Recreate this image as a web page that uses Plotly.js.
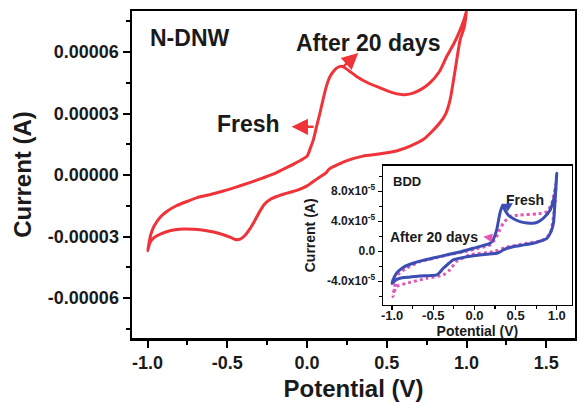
<!DOCTYPE html>
<html>
<head>
<meta charset="utf-8">
<script src="https://cdn.plot.ly/plotly-3.0.1.min.js"></script>
<style>html,body{margin:0;padding:0;background:#fff;}#chart{width:577px;height:402px;}</style>
</head>
<body>
<div id="chart"></div>
<script>
// Main N-DNW cyclic voltammogram (potential V, current A)
const ndnwPotential = [
  -1.00,-0.98,-0.96,-0.92,-0.88,-0.82,-0.75,-0.69,-0.60,-0.525,-0.45,-0.36,-0.28,-0.21,-0.15,-0.087,-0.04,0.00,0.02,0.04,0.06,0.08,0.10,0.12,0.144,0.17,0.186,0.217,0.26,0.31,0.38,0.457,0.53,0.60,0.66,0.72,0.77,0.83,0.876,0.92,0.96,0.985,1.00,
  0.985,0.96,0.93,0.897,0.87,0.834,0.78,0.73,0.65,0.56,0.45,0.35,0.25,0.14,0.12,0.06,0.00,-0.065,-0.15,-0.23,-0.27,-0.295,-0.33,-0.36,-0.39,-0.42,-0.45,-0.48,-0.55,-0.63,-0.71,-0.80,-0.86,-0.92,-0.96,-0.985,-1.00
];
const ndnwCurrent = [
  -3.70e-5,-2.90e-5,-2.50e-5,-2.05e-5,-1.78e-5,-1.50e-5,-1.28e-5,-1.10e-5,-0.94e-5,-0.78e-5,-0.60e-5,-0.37e-5,-0.15e-5,0.05e-5,0.28e-5,0.52e-5,0.72e-5,0.92e-5,1.30e-5,1.74e-5,2.38e-5,3.00e-5,3.68e-5,4.30e-5,4.81e-5,5.10e-5,5.22e-5,5.30e-5,5.10e-5,4.81e-5,4.50e-5,4.25e-5,4.03e-5,3.92e-5,3.98e-5,4.20e-5,4.49e-5,5.05e-5,5.79e-5,6.40e-5,7.08e-5,7.60e-5,8.00e-5,
  7.20e-5,6.60e-5,5.20e-5,3.68e-5,3.00e-5,2.56e-5,2.10e-5,1.74e-5,1.42e-5,1.17e-5,1.02e-5,0.92e-5,0.70e-5,0.30e-5,0.12e-5,-0.20e-5,-0.53e-5,-0.75e-5,-0.94e-5,-1.18e-5,-1.45e-5,-1.75e-5,-2.25e-5,-2.64e-5,-2.95e-5,-3.13e-5,-3.15e-5,-3.04e-5,-2.85e-5,-2.72e-5,-2.65e-5,-2.64e-5,-2.72e-5,-2.88e-5,-3.05e-5,-3.29e-5,-3.70e-5
];

// Inset BDD, fresh (solid blue)
const bddFreshPotential = [
  -1.00,-0.99,-0.95,-0.906,-0.85,-0.745,-0.64,-0.54,-0.44,-0.34,-0.18,-0.015,0.10,0.19,0.23,0.27,0.31,0.343,0.37,0.41,0.48,0.553,0.64,0.715,0.78,0.837,0.92,0.98,1.00,
  0.99,0.975,0.96,0.93,0.88,0.80,0.715,0.60,0.47,0.40,0.35,0.30,0.27,0.15,0.067,-0.10,-0.258,-0.31,-0.35,-0.38,-0.42,-0.46,-0.55,-0.66,-0.80,-0.906,-0.96,-1.00
];
const bddFreshCurrent = [
  -4.30e-5,-3.83e-5,-2.97e-5,-2.49e-5,-2.05e-5,-1.60e-5,-1.25e-5,-1.00e-5,-0.75e-5,-0.49e-5,-0.10e-5,0.40e-5,0.75e-5,1.07e-5,1.60e-5,2.84e-5,5.07e-5,6.17e-5,5.50e-5,4.84e-5,4.30e-5,3.95e-5,3.78e-5,3.73e-5,3.95e-5,4.40e-5,5.50e-5,7.70e-5,10.4e-5,
  8.50e-5,6.00e-5,3.73e-5,2.60e-5,1.73e-5,1.35e-5,1.07e-5,0.85e-5,0.61e-5,0.40e-5,0.17e-5,-0.15e-5,-0.27e-5,-0.40e-5,-0.49e-5,-0.75e-5,-1.16e-5,-1.60e-5,-2.00e-5,-2.27e-5,-2.80e-5,-3.16e-5,-3.25e-5,-3.30e-5,-3.45e-5,-3.60e-5,-3.85e-5,-4.30e-5
];

// Inset BDD, after 20 days (pink dotted)
const bddAgedPotential = [
  -0.99,-0.97,-0.93,-0.825,-0.66,-0.50,-0.30,-0.10,0.05,0.15,0.19,0.23,0.27,0.31,0.35,0.43,0.553,0.757,0.88,0.94,0.97,0.99,
  0.98,0.96,0.92,0.837,0.635,0.39,0.23,-0.055,-0.22,-0.30,-0.38,-0.58,-0.825,-0.95,-0.99
];
const bddAgedCurrent = [
  -6.05e-5,-4.70e-5,-3.16e-5,-2.27e-5,-1.39e-5,-0.95e-5,-0.45e-5,0.00e-5,0.40e-5,0.70e-5,0.84e-5,1.30e-5,1.95e-5,2.90e-5,3.73e-5,4.61e-5,4.84e-5,4.97e-5,5.28e-5,6.40e-5,7.80e-5,9.00e-5,
  6.50e-5,4.61e-5,2.40e-5,1.50e-5,1.07e-5,0.53e-5,-0.05e-5,-0.49e-5,-1.39e-5,-2.49e-5,-3.16e-5,-3.60e-5,-4.27e-5,-4.72e-5,-6.05e-5
];

// Tick labels
const mainXTickVals = [-1.0,-0.5,0.0,0.5,1.0,1.5];
const mainXTickText = ['-1.0','-0.5','0.0','0.5','1.0','1.5'];
const mainYTickVals = [-6e-5,-3e-5,0,3e-5,6e-5];
const mainYTickText = ['-0.00006','-0.00003','0.00000','0.00003','0.00006'];
const insetXTickVals = [-1.0,-0.5,0.0,0.5,1.0];
const insetXTickText = ['-1.0','-0.5','0.0','0.5','1.0'];
const insetYTickVals = [-4e-5,0,4e-5,8e-5];
const insetYTickText = ['-4.0x10<sup>-5</sup>','0.0','4.0x10<sup>-5</sup>','8.0x10<sup>-5</sup>'];

const FONT = 'Liberation Sans, Arial, Helvetica, sans-serif';
const RED = '#ef3338';
const BLUE = '#3c4db3';
const PINK = '#e257b9';
const INK = '#1a1a1a';

const traces = [
  {x: ndnwPotential, y: ndnwCurrent, type: 'scatter', mode: 'lines',
   line: {color: RED, width: 3, shape: 'spline', smoothing: 0.6}, xaxis: 'x', yaxis: 'y', hoverinfo: 'skip'},
  {x: bddAgedPotential, y: bddAgedCurrent, type: 'scatter', mode: 'lines',
   line: {color: PINK, width: 3, dash: 'dot', shape: 'spline', smoothing: 0.6}, xaxis: 'x2', yaxis: 'y2', hoverinfo: 'skip'},
  {x: bddFreshPotential, y: bddFreshCurrent, type: 'scatter', mode: 'lines',
   line: {color: BLUE, width: 3, shape: 'spline', smoothing: 0.6}, xaxis: 'x2', yaxis: 'y2', hoverinfo: 'skip'}
];

const axisCommon = {
  showline: true, linecolor: '#000', mirror: true, showgrid: false, zeroline: false,
  ticks: 'outside', tickcolor: '#000'
};

function label(text, x, y, size) {
  return {text: text, xref: 'paper', yref: 'paper', x: x, y: y, xanchor: 'center', yanchor: 'middle',
          showarrow: false, font: {family: FONT, size: size, weight: 'bold', color: INK}};
}

const layout = {
  width: 577, height: 402,
  margin: {l: 132, r: 2, t: 11, b: 64, pad: 0},
  paper_bgcolor: '#fff', plot_bgcolor: '#fff',
  showlegend: false,
  font: {family: FONT, color: INK},
  xaxis: Object.assign({}, axisCommon, {
    domain: [0, 1], range: [-1.098, 1.68], anchor: 'y',
    linewidth: 2.5, tickwidth: 2, ticklen: 7,
    tickmode: 'array', tickvals: mainXTickVals, ticktext: mainXTickText,
    minor: {tickmode: 'linear', tick0: -1, dtick: 0.25, ticks: 'outside', ticklen: 4, tickwidth: 2, tickcolor: '#000'},
    tickfont: {family: FONT, size: 18, weight: 'bold', color: INK},
    title: {text: 'Potential (V)', font: {family: FONT, size: 24, weight: 'bold', color: INK}, standoff: 11}
  }),
  yaxis: Object.assign({}, axisCommon, {
    domain: [0, 1], range: [-7.95e-5, 8.0e-5], anchor: 'x',
    linewidth: 2.5, tickwidth: 2, ticklen: 7,
    tickmode: 'array', tickvals: mainYTickVals, ticktext: mainYTickText,
    minor: {tickmode: 'linear', tick0: 0, dtick: 1.5e-5, ticks: 'outside', ticklen: 4, tickwidth: 2, tickcolor: '#000'},
    tickfont: {family: FONT, size: 18, weight: 'bold', color: INK},
    title: {text: 'Current (A)', font: {family: FONT, size: 24, weight: 'bold', color: INK}, standoff: 10}
  }),
  xaxis2: Object.assign({}, axisCommon, {
    domain: [0.567, 0.9926], range: [-1.109, 1.182], anchor: 'y2',
    linewidth: 1.5, tickwidth: 1.5, ticklen: 4, ticklabelstandoff: -6,
    tickmode: 'array', tickvals: insetXTickVals, ticktext: insetXTickText,
    minor: {tickmode: 'linear', tick0: -1, dtick: 0.25, ticks: 'outside', ticklen: 2.5, tickwidth: 1.2, tickcolor: '#000'},
    tickfont: {family: FONT, size: 13, weight: 'bold', color: INK},
    title: {text: 'Potential (V)', font: {family: FONT, size: 14, weight: 'bold', color: INK}, standoff: 0}
  }),
  yaxis2: Object.assign({}, axisCommon, {
    domain: [0.101, 0.527], range: [-7.16e-5, 11.41e-5], anchor: 'x2',
    linewidth: 1.5, tickwidth: 1.5, ticklen: 4,
    tickmode: 'array', tickvals: insetYTickVals, ticktext: insetYTickText,
    minor: {tickmode: 'linear', tick0: 0, dtick: 2e-5, ticks: 'outside', ticklen: 2.5, tickwidth: 1.2, tickcolor: '#000'},
    tickfont: {family: FONT, size: 12, weight: 'bold', color: INK},
    title: {text: 'Current (A)', font: {family: FONT, size: 14, weight: 'bold', color: INK}, standoff: 8}
  }),
  annotations: [
    label('N-DNW', 0.1287, 0.917, 23),
    label('After 20 days', 0.5334, 0.903, 23),
    label('Fresh', 0.2637, 0.653, 23),
    {text: '', xref: 'x', yref: 'y', x: 0.321, y: 5.95e-5, axref: 'x', ayref: 'y', ax: 0.217, ay: 5.22e-5,
     showarrow: true, arrowhead: 2, arrowsize: 1.3, arrowwidth: 2.5, arrowcolor: RED},
    {text: '', xref: 'x', yref: 'y', x: -0.0966, y: 2.35e-5, axref: 'x', ayref: 'y', ax: 0.05, ay: 2.35e-5,
     showarrow: true, arrowhead: 2, arrowsize: 1.3, arrowwidth: 2.5, arrowcolor: RED},
    label('BDD', 0.620, 0.478, 13),
    label('Fresh', 0.8879, 0.422, 14),
    label('After 20 days', 0.6822, 0.308, 14),
    {text: '', xref: 'x2', yref: 'y2', x: 0.468, y: 6.44e-5, axref: 'x2', ayref: 'y2', ax: 0.371, ay: 5.77e-5,
     showarrow: true, arrowhead: 2, arrowsize: 1, arrowwidth: 1.8, arrowcolor: BLUE},
    {text: '', xref: 'x2', yref: 'y2', x: 0.107, y: 1.95e-5, axref: 'x2', ayref: 'y2', ax: 0.249, ay: 1.73e-5,
     showarrow: true, arrowhead: 2, arrowsize: 1, arrowwidth: 1.8, arrowcolor: PINK}
  ]
};

Plotly.newPlot('chart', traces, layout, {staticPlot: true, displayModeBar: false});
</script>
</body>
</html>
